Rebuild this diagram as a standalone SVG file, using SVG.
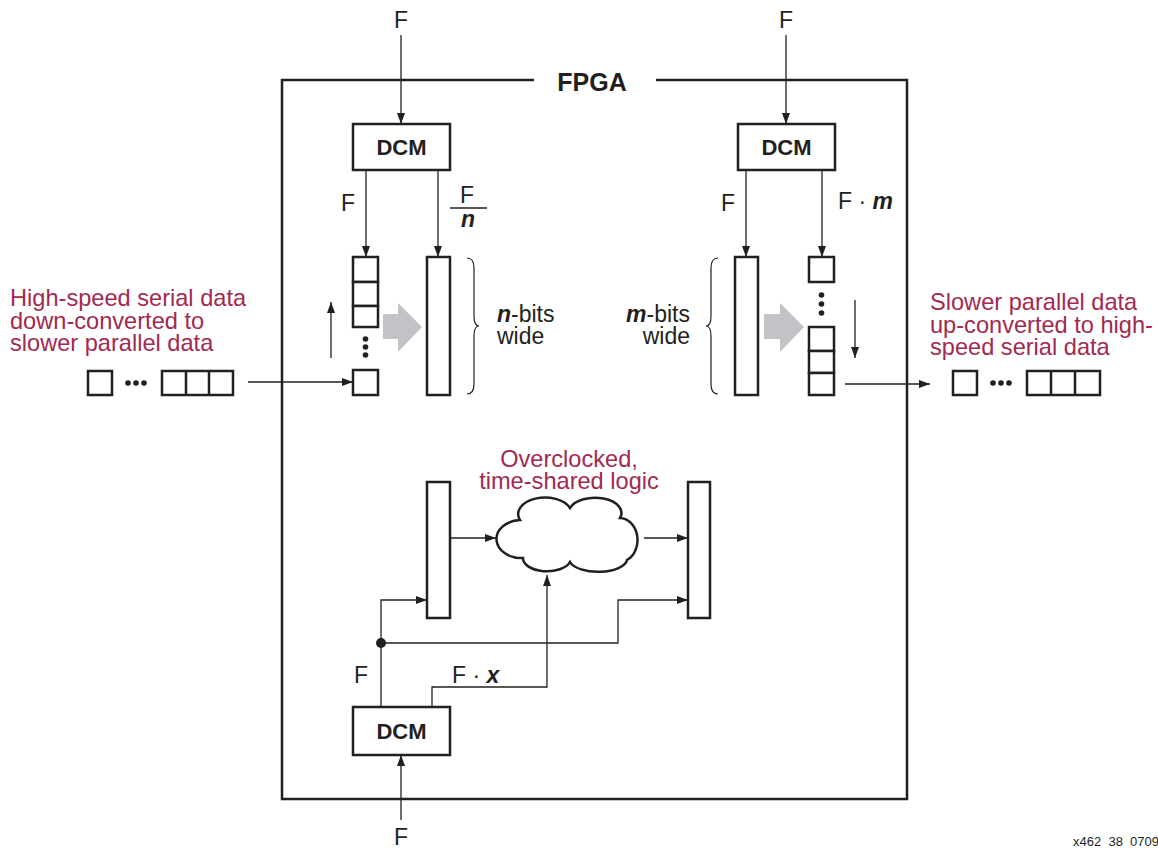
<svg xmlns="http://www.w3.org/2000/svg" width="1158" height="848" viewBox="0 0 1158 848">
<style>
text{font-family:"Liberation Sans",Arial,sans-serif;fill:#231f20}
.t{font-size:23px}
.b{font-weight:bold}
.bi{font-weight:bold;font-style:italic}
.red{fill:#a3294f;font-size:23.6px}
.box{fill:#fff;stroke:#231f20;stroke-width:2.5}
.ln{fill:none;stroke:#231f20;stroke-width:1.3}
.br{fill:none;stroke:#231f20;stroke-width:1.2}
.gray{fill:#c1c3c7}
</style>
<defs>
<marker id="ah" markerUnits="userSpaceOnUse" markerWidth="12" markerHeight="10" refX="11" refY="4" orient="auto">
<path d="M0,0 L11,4 L0,8 Z" fill="#231f20"/>
</marker>
</defs>
<rect width="1158" height="848" fill="#fff"/>

<g id="fpga">
<path d="M534,80 H282 V799 H907 V80 H656" fill="none" stroke="#231f20" stroke-width="2.5"/>
<text x="592" y="91" text-anchor="middle" class="b" font-size="25">FPGA</text>
</g>

<g id="connectors">
<line class="ln" x1="401" y1="35" x2="401" y2="124" marker-end="url(#ah)"/>
<line class="ln" x1="786" y1="35" x2="786" y2="124" marker-end="url(#ah)"/>
<line class="ln" x1="366" y1="170" x2="366" y2="257" marker-end="url(#ah)"/>
<line class="ln" x1="438" y1="170" x2="438" y2="257" marker-end="url(#ah)"/>
<line class="ln" x1="746" y1="170" x2="746" y2="257" marker-end="url(#ah)"/>
<line class="ln" x1="822" y1="170" x2="822" y2="257" marker-end="url(#ah)"/>
<line class="ln" x1="248" y1="382" x2="353" y2="382" marker-end="url(#ah)"/>
<line class="ln" x1="331" y1="358" x2="331" y2="302" marker-end="url(#ah)"/>
<line class="ln" x1="855" y1="300" x2="855" y2="358" marker-end="url(#ah)"/>
<line class="ln" x1="845" y1="384" x2="930" y2="384" marker-end="url(#ah)"/>
<line class="ln" x1="401" y1="820" x2="401" y2="755" marker-end="url(#ah)"/>
<polyline class="ln" points="381,707 381,600 427,600" marker-end="url(#ah)"/>
<polyline class="ln" points="381,643 618,643 618,600 688,600" marker-end="url(#ah)"/>
<polyline class="ln" points="432,707 432,687 547,687 547,575" marker-end="url(#ah)"/>
<line class="ln" x1="450" y1="538" x2="496" y2="538" marker-end="url(#ah)"/>
<line class="ln" x1="644" y1="538" x2="688" y2="538" marker-end="url(#ah)"/>
<circle cx="381" cy="643" r="5" fill="#231f20"/>
</g>

<g id="dcm-left">
<rect class="box" x="353" y="124" width="97" height="46"/>
<text x="401.5" y="155" text-anchor="middle" class="b" font-size="22">DCM</text>
</g>
<g id="dcm-right">
<rect class="box" x="738" y="124" width="97" height="46"/>
<text x="786.5" y="155" text-anchor="middle" class="b" font-size="22">DCM</text>
</g>
<g id="dcm-bottom">
<rect class="box" x="353" y="707" width="97" height="48"/>
<text x="401.5" y="739" text-anchor="middle" class="b" font-size="22">DCM</text>
</g>

<g id="clock-labels">
<text x="401" y="28" text-anchor="middle" class="t">F</text>
<text x="786" y="28" text-anchor="middle" class="t">F</text>
<text x="401" y="845" text-anchor="middle" class="t">F</text>
<text x="348" y="211" text-anchor="middle" class="t">F</text>
<text x="467" y="203" text-anchor="middle" class="t">F</text>
<line x1="450" y1="208" x2="487" y2="208" stroke="#231f20" stroke-width="1.3"/>
<text x="468" y="227" text-anchor="middle" class="t bi">n</text>
<text x="728" y="211" text-anchor="middle" class="t">F</text>
<text x="838" y="209" class="t">F · <tspan class="bi">m</tspan></text>
<text x="361" y="683" text-anchor="middle" class="t">F</text>
<text x="452" y="683" class="t">F · <tspan class="bi">x</tspan></text>
</g>

<g id="serial-in">
<rect class="box" x="88" y="371" width="24" height="24"/>
<circle cx="128" cy="383" r="2.8" fill="#231f20"/>
<circle cx="136" cy="383" r="2.8" fill="#231f20"/>
<circle cx="144" cy="383" r="2.8" fill="#231f20"/>
<rect class="box" x="162" y="371" width="71" height="24"/>
<line x1="186" y1="371" x2="186" y2="395" stroke="#231f20" stroke-width="2.5"/>
<line x1="209" y1="371" x2="209" y2="395" stroke="#231f20" stroke-width="2.5"/>
<text class="red" x="10" y="306">High-speed serial data</text>
<text class="red" x="10" y="328.5">down-converted to</text>
<text class="red" x="10" y="351">slower parallel data</text>
</g>

<g id="shift-left">
<rect class="box" x="353" y="257" width="25" height="25"/>
<rect class="box" x="353" y="282" width="25" height="24"/>
<rect class="box" x="353" y="306" width="25" height="21"/>
<circle cx="365.5" cy="339" r="2.8" fill="#231f20"/>
<circle cx="365.5" cy="347" r="2.8" fill="#231f20"/>
<circle cx="365.5" cy="355" r="2.8" fill="#231f20"/>
<rect class="box" x="353" y="370" width="25" height="25"/>
</g>
<polygon id="gray-left" class="gray" points="383,314 398,314 398,303 422,327 398,352 398,339 383,339"/>
<g id="reg-left">
<rect class="box" x="427" y="257" width="23" height="138"/>
<path class="br" d="M467,258 Q474,258 474,268 L474,316 Q474,326 479,326 Q474,326 474,336 L474,384 Q474,394 467,394"/>
<text x="497" y="322" class="t"><tspan class="bi">n</tspan>-bits</text>
<text x="497" y="344" class="t">wide</text>
</g>

<g id="reg-right">
<rect class="box" x="735" y="257" width="23" height="138"/>
<path class="br" d="M718,258 Q711,258 711,268 L711,316 Q711,326 706,326 Q711,326 711,336 L711,384 Q711,394 718,394"/>
<text x="690" y="322" text-anchor="end" class="t"><tspan class="bi">m</tspan>-bits</text>
<text x="690" y="344" text-anchor="end" class="t">wide</text>
</g>
<polygon id="gray-right" class="gray" points="764,314 780,314 780,303 804,327 780,352 780,339 764,339"/>
<g id="shift-right">
<rect class="box" x="809" y="257" width="25" height="25"/>
<circle cx="821.5" cy="295" r="2.8" fill="#231f20"/>
<circle cx="821.5" cy="304" r="2.8" fill="#231f20"/>
<circle cx="821.5" cy="313" r="2.8" fill="#231f20"/>
<rect class="box" x="809" y="327" width="25" height="24"/>
<rect class="box" x="809" y="351" width="25" height="22"/>
<rect class="box" x="809" y="373" width="25" height="22"/>
</g>

<g id="serial-out">
<rect class="box" x="953" y="371" width="24" height="24"/>
<circle cx="993" cy="383" r="2.8" fill="#231f20"/>
<circle cx="1001" cy="383" r="2.8" fill="#231f20"/>
<circle cx="1009" cy="383" r="2.8" fill="#231f20"/>
<rect class="box" x="1027" y="371" width="73" height="24"/>
<line x1="1051" y1="371" x2="1051" y2="395" stroke="#231f20" stroke-width="2.5"/>
<line x1="1075" y1="371" x2="1075" y2="395" stroke="#231f20" stroke-width="2.5"/>
<text class="red" x="930" y="310">Slower parallel data</text>
<text class="red" x="930" y="332.5">up-converted to high-</text>
<text class="red" x="930" y="355">speed serial data</text>
</g>

<g id="reg-bottom-left">
<rect class="box" x="427" y="482" width="23" height="136"/>
</g>
<g id="reg-bottom-right">
<rect class="box" x="688" y="482" width="22" height="136"/>
</g>
<g id="cloud">
<path class="box" d="M520,520 A26,16 0 0 1 570,508 A26,15 0 0 1 620,518 A18,22 0 0 1 627,560 A29,13 0 0 1 570,562 A24,13 0 0 1 523,558 A25,19 0 0 1 520,520 Z"/>
<text class="red" x="569" y="467" text-anchor="middle">Overclocked,</text>
<text class="red" x="569" y="489" text-anchor="middle">time-shared logic</text>
</g>

<text x="1073" y="846" font-size="13">x462_38_0709</text>
</svg>
